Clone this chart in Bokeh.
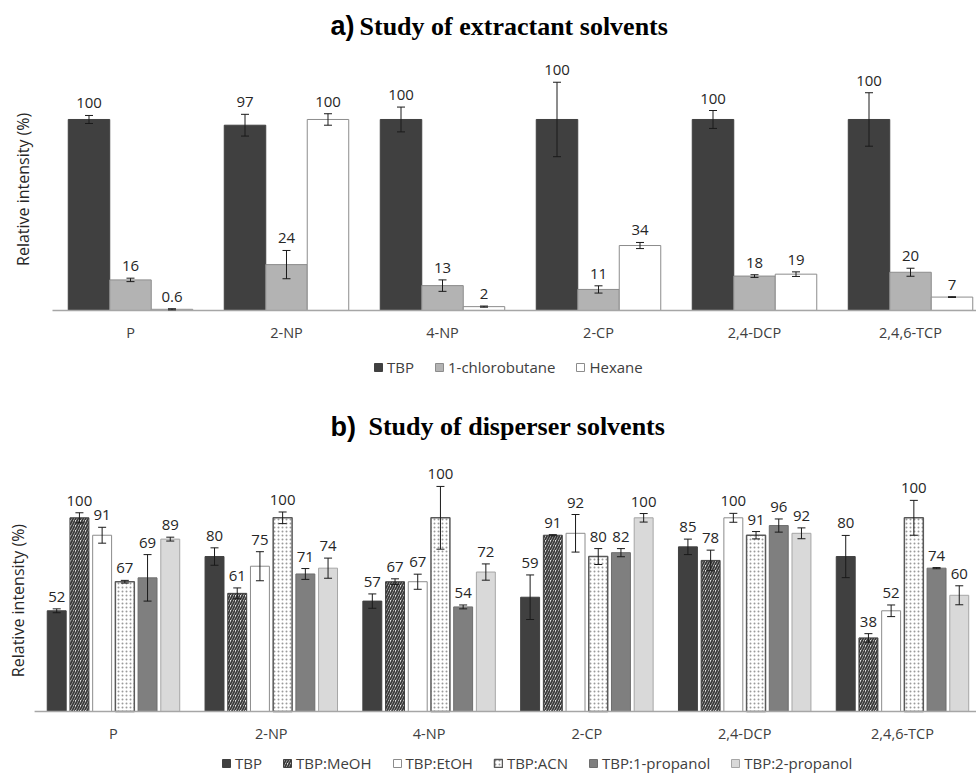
import numpy as np
from math import pi
from bokeh.plotting import figure
from bokeh.models import (ColumnDataSource, Range1d, Whisker, TeeHead,
                          LabelSet, Label, Legend, LegendItem)
from bokeh.core.properties import value
from bokeh.layouts import column
from bokeh.embed import file_html
from bokeh.resources import INLINE

# ---------------- data ----------------
compounds = ["P", "2-NP", "4-NP", "2-CP", "2,4-DCP", "2,4,6-TCP"]

# a) extractant solvents
ext_series = ["TBP", "1-chlorobutane", "Hexane"]
ext_tbp = [100, 97, 100, 100, 100, 100]
ext_tbp_err = [2.1, 5.7, 6.5, 19.5, 4.7, 14.0]
ext_chloro = [16, 24, 13, 11, 18, 20]
ext_chloro_err = [0.9, 7.4, 3.0, 1.9, 0.7, 2.1]
ext_hexane = [0.6, 100, 2, 34, 19, 7]
ext_hexane_err = [0.3, 3.0, 0.3, 1.6, 1.2, 0.2]

# b) disperser solvents
disp_series = ["TBP", "TBP:MeOH", "TBP:EtOH", "TBP:ACN", "TBP:1-propanol", "TBP:2-propanol"]
disp_tbp = [52, 80, 57, 59, 85, 80]
disp_tbp_err = [1.0, 4.5, 3.7, 11.5, 4.0, 10.9]
disp_meoh = [100, 61, 67, 91, 78, 38]
disp_meoh_err = [2.6, 2.8, 1.5, 0.3, 5.3, 2.2]
disp_etoh = [91, 75, 67, 92, 100, 52]
disp_etoh_err = [4.1, 7.5, 3.9, 9.7, 2.3, 3.0]
disp_acn = [67, 100, 100, 80, 91, 100]
disp_acn_err = [0.7, 3.0, 16.2, 4.1, 1.9, 9.0]
disp_prop1 = [69, 71, 54, 82, 96, 74]
disp_prop1_err = [12.0, 2.8, 1.0, 2.1, 3.4, 0.3]
disp_prop2 = [89, 74, 72, 100, 92, 60]
disp_prop2_err = [1.0, 5.2, 4.2, 2.2, 2.8, 4.9]

FONT = "Open Sans"
TXT = "#262626"

# ---------------- styles ----------------
ext_styles = [
    dict(fill_color="#404040", line_color="#404040"),
    dict(fill_color="#b3b3b3", line_color="#8c8c8c"),
    dict(fill_color="white", line_color="#8c8c8c"),
]
disp_styles = [
    dict(fill_color="#404040", line_color="#404040"),
    dict(fill_color="#e6e6e6", line_color="#404040", hatch_pattern="/",
         hatch_color="#383838", hatch_scale=5, hatch_weight=1.8),
    dict(fill_color="white", line_color="#8c8c8c"),
    dict(fill_color="white", line_color="#595959", line_width=1.5, hatch_pattern=".",
         hatch_color="#9a9a9a", hatch_scale=4, hatch_weight=1),
    dict(fill_color="#7f7f7f", line_color="#6e6e6e"),
    dict(fill_color="#d9d9d9", line_color="#a6a6a6"),
]


def fmt(v):
    return f"{v:g}"


def panel(series, vals, errs, styles, bar_w, step, xr, yr, height,
          leg_loc, title_parts, ylabel_pos):
    n = len(series)
    p = figure(width=976, height=height, x_range=Range1d(*xr), y_range=Range1d(*yr),
               output_backend="svg", toolbar_location=None,
               min_border_left=0, min_border_right=0, min_border_top=0,
               min_border_bottom=0)
    p.outline_line_color = None
    p.grid.visible = False
    p.axis.visible = False

    items = []
    idx = np.arange(len(compounds))
    for i in range(n):
        off = (i - (n - 1) / 2) * step
        v = np.array(vals[i], dtype=float)
        e = np.array(errs[i], dtype=float)
        src = ColumnDataSource(dict(x=idx + off, top=v, upper=v + e, lower=v - e,
                                    ly=v + e, label=[fmt(t) for t in vals[i]]))
        r = p.vbar(x="x", top="top", width=bar_w, source=src, **styles[i])
        p.add_layout(Whisker(source=src, base="x", upper="upper", lower="lower",
                             dimension="height", line_color="#1a1a1a", line_width=1,
                             level="annotation",
                             upper_head=TeeHead(size=8, line_color="#1a1a1a", line_width=1),
                             lower_head=TeeHead(size=8, line_color="#1a1a1a", line_width=1)))
        p.add_layout(LabelSet(x="x", y="ly", text="label", source=src, text_align="center",
                              text_baseline="alphabetic", y_offset=7,
                              text_font=value(FONT), text_font_size=value("15px"),
                              text_color=value(TXT)))
        items.append(LegendItem(label=series[i], renderers=[r]))

    # category axis: baseline line and category labels
    p.segment(x0=[-0.5], x1=[len(compounds) - 0.5], y0=[0], y1=[0],
              line_color="#a6a6a6", line_width=1.5)
    csrc = ColumnDataSource(dict(x=idx, y=np.zeros(len(compounds)), text=compounds))
    p.add_layout(LabelSet(x="x", y="y", text="text", source=csrc, text_align="center",
                          text_baseline="middle", y_offset=-22,
                          text_font=value(FONT), text_font_size=value("14.5px"),
                          text_color=value("#404040")))

    leg = Legend(items=items, orientation="horizontal", location=leg_loc,
                 glyph_width=10, glyph_height=10, label_standoff=4, spacing=20,
                 padding=1, margin=0, border_line_color=None,
                 background_fill_alpha=0, label_text_font=FONT,
                 label_text_font_size="15px", label_text_color="#404040",
                 label_height=17)
    p.add_layout(leg)

    (lx, lt), (sx, st), ty = title_parts
    p.add_layout(Label(x=lx, y=ty, text=lt, text_font="Liberation Sans",
                       text_font_style="bold", text_font_size="27px",
                       text_align="left", text_baseline="alphabetic", text_color="black"))
    p.add_layout(Label(x=sx, y=ty, text=st, text_font="Liberation Serif",
                       text_font_style="bold", text_font_size="26px",
                       text_align="left", text_baseline="alphabetic", text_color="black"))
    p.add_layout(Label(x=ylabel_pos[0], y=ylabel_pos[1], text="Relative intensity (%)",
                       angle=pi / 2, text_align="center", text_baseline="middle",
                       text_font=FONT, text_font_size="16px", text_color=TXT))
    return p


pa = panel(ext_series,
           [ext_tbp, ext_chloro, ext_hexane],
           [ext_tbp_err, ext_chloro_err, ext_hexane_err],
           ext_styles, bar_w=0.266, step=0.266, xr=(-0.8333, 5.423), yr=(-39.3, 162.3),
           height=385, leg_loc=(373, 8),
           title_parts=((1.282, "a)"), (1.468, "Study of extractant solvents"), 148.9),
           ylabel_pos=(-0.689, 63.4))

pb = panel(disp_series,
           [disp_tbp, disp_meoh, disp_etoh, disp_acn, disp_prop1, disp_prop2],
           [disp_tbp_err, disp_meoh_err, disp_etoh_err, disp_acn_err, disp_prop1_err, disp_prop2_err],
           disp_styles, bar_w=0.12, step=0.1439, xr=(-0.716, 5.469), yr=(-32.0, 168.3),
           height=388, leg_loc=(221, 0),
           title_parts=((1.375, "b)"), (1.616, "Study of disperser solvents"), 147.1),
           ylabel_pos=(-0.602, 57.3))

layout = column(pa, pb, spacing=0)
open("out.html", "w").write(file_html(layout, INLINE))
